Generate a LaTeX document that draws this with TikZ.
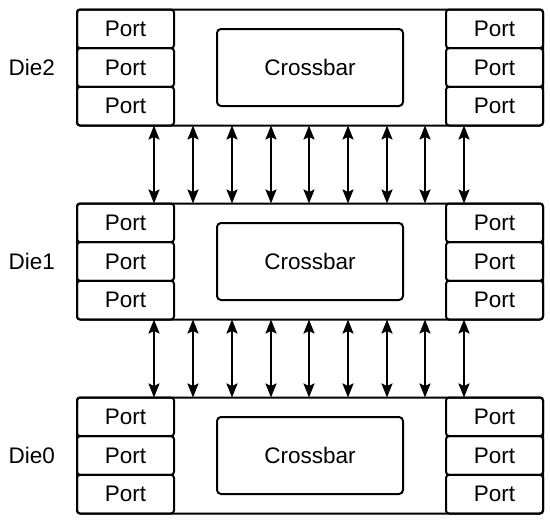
\documentclass[tikz,border=0pt]{standalone}
\usepackage{fontspec}
\setmainfont{Liberation Sans}
\usetikzlibrary{arrows.meta,positioning}

\begin{document}
\begin{tikzpicture}[x=1pt, y=-1pt,
  die/.style={draw, line width=2pt, rounded corners=3pt, minimum width=466pt,
              minimum height=116pt, outer sep=0pt},
  port/.style={draw, line width=2pt, rounded corners=3pt, minimum width=97pt,
               minimum height=38.67pt, inner sep=0pt, outer sep=0pt,
               font=\fontsize{22.5}{26}\selectfont},
  xbar/.style={draw, line width=2pt, rounded corners=4pt, minimum width=186pt,
               minimum height=77pt, font=\fontsize{22.5}{26}\selectfont},
  dielbl/.style={inner sep=0pt, font=\fontsize{22.5}{26}\selectfont},
  link/.style={{Stealth[length=14pt, width=11pt, inset=2.5pt]}-{Stealth[length=14pt, width=11pt, inset=2.5pt]},
               line width=2pt},
  node distance=0pt
]
\useasboundingbox (0,0) rectangle (550,522);
% three dies, each with six ports and a crossbar
\foreach \d/\y in {2/67.5, 1/261.5, 0/455.5} {
  \node[die] (die\d) at (310,\y) {};
  \node[dielbl, left=22pt of die\d] (lbl\d) {Die\d};
  \node[port, anchor=north west] (pl\d-1) at (die\d.north west) {Port};
  \node[port, below=of pl\d-1] (pl\d-2) {Port};
  \node[port, below=of pl\d-2] (pl\d-3) {Port};
  \node[port, anchor=north east] (pr\d-1) at (die\d.north east) {Port};
  \node[port, below=of pr\d-1] (pr\d-2) {Port};
  \node[port, below=of pr\d-2] (pr\d-3) {Port};
  \node[xbar] (xbar\d) at (die\d) {Crossbar};
}
% die-to-die links
\foreach \x in {154,193,232,271,309,348,387,425,464} {
  \draw[link] (die2.south -| \x,0) -- (die1.north -| \x,0);
  \draw[link] (die1.south -| \x,0) -- (die0.north -| \x,0);
}
\end{tikzpicture}
\end{document}
